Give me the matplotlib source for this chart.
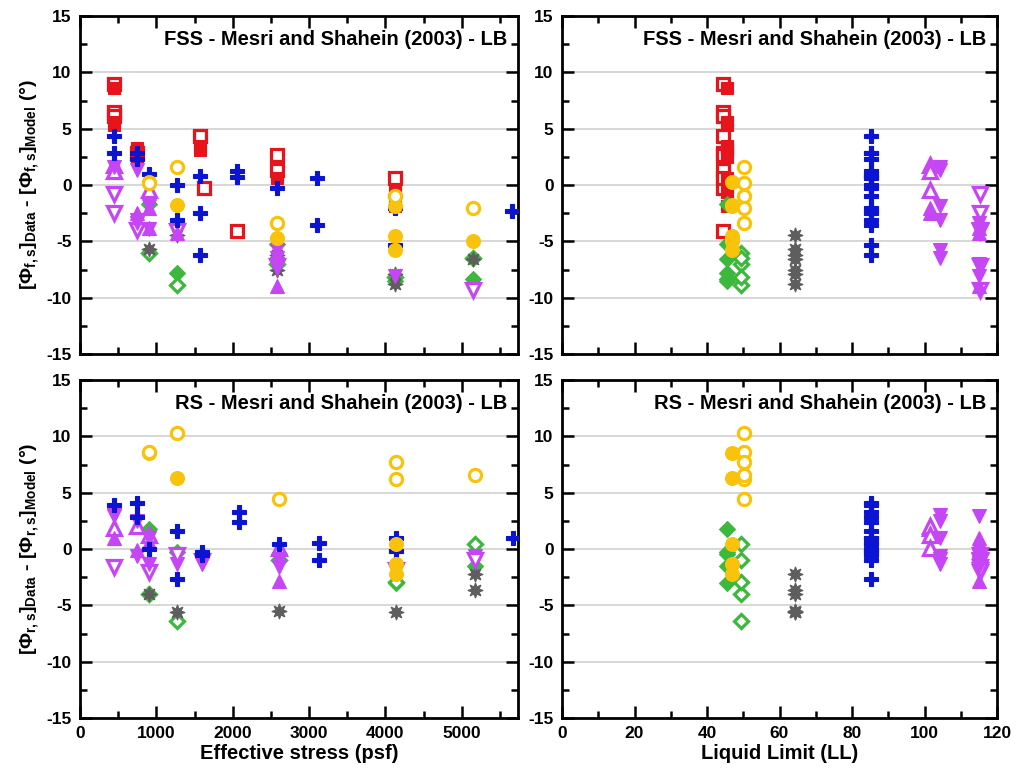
import matplotlib
matplotlib.use('Agg')
import matplotlib.pyplot as plt
from matplotlib.ticker import MultipleLocator

plt.rcParams['font.family'] = ['Liberation Sans', 'DejaVu Sans']
plt.rcParams['font.weight'] = 'bold'
plt.rcParams['axes.unicode_minus'] = False
plt.rcParams['mathtext.fontset'] = 'custom'
plt.rcParams['mathtext.rm'] = 'Liberation Sans:bold'
plt.rcParams['mathtext.it'] = 'Liberation Sans:bold'
plt.rcParams['mathtext.bf'] = 'Liberation Sans:bold'
plt.rcParams['mathtext.sf'] = 'Liberation Sans:bold'
plt.rcParams['mathtext.default'] = 'bf'

# ---------------- Liquid limits of each soil series ----------------
LL_RED_OPEN = 44.3
LL_RED_FILLED = 45.6
LL_YELLOW_FILLED = 47.0
LL_YELLOW_OPEN = 50.3
LL_GREEN_FILLED = 45.5
LL_GREEN_OPEN = 49.5
LL_GRAY = 64.2
LL_BLUE = 85.3
LL_PURPLE_OPEN_UP = 101.5
LL_PURPLE_FILLED_UP = 101.5
LL_PURPLE_FILLED_DOWN = 104.2
LL_PURPLE_OPEN_DOWN = 115.2
LL_PURPLE_FILLED_DOWN_B = 115.0
LL_PURPLE_FILLED_UP_B = 115.0

# ---------------- FSS residuals (stress psf, difference deg) ----------------
fss_red_open_x = [450, 450, 450, 750, 1575, 1627, 2055, 2585, 2585, 4130]
fss_red_open_y = [9.0, 6.5, 6.1, 2.8, 4.35, -0.3, -4.1, 2.7, 1.3, 0.6]
fss_red_filled_x = [450, 450, 450, 750, 750, 750, 1575, 1575, 2585, 4130, 4130]
fss_red_filled_y = [8.6, 5.6, 5.3, 3.3, 3.0, 2.5, 3.5, 3.1, 0.6, -0.6, -1.9]
fss_yellow_filled_x = [905, 1265, 2585, 4130, 4130, 4130, 5145]
fss_yellow_filled_y = [0.3, -1.8, -4.7, -1.9, -4.5, -5.8, -5.0]
fss_yellow_open_x = [905, 1265, 2585, 4130, 5145]
fss_yellow_open_y = [0.2, 1.6, -3.4, -1.0, -2.0]
fss_green_filled_x = [905, 1265, 2585, 2585, 4130, 5145]
fss_green_filled_y = [-1.7, -7.8, -5.2, -6.6, -8.5, -8.3]
fss_green_open_x = [905, 1265, 2585, 4130, 5145]
fss_green_open_y = [-6.0, -8.9, -7.0, -8.2, -6.5]
fss_gray_x = [905, 1265, 2585, 2585, 4130, 4130, 5145]
fss_gray_y = [-5.7, -4.4, -6.2, -7.5, -7.9, -8.8, -6.6]
fss_blue_x = [450, 450, 750, 750, 905, 1265, 1265, 1575, 1575, 1575, 2060, 2060,
              2585, 3097, 3097, 4130, 4130, 4130, 5650]
fss_blue_y = [4.35, 2.87, 2.8, 2.3, 1.0, 0.0, -3.1, 0.8, -2.5, -6.2, 1.2, 0.7,
              -0.3, 0.6, -3.55, -1.0, -2.0, -5.3, -2.35]
fss_purple_open_up_x = [450, 450, 905]
fss_purple_open_up_y = [1.8, 1.2, -0.45]
fss_purple_filled_up_x = [750, 905]
fss_purple_filled_up_y = [-2.5, -2.0]
fss_purple_filled_down_x = [450, 750, 750, 905, 2585, 2585]
fss_purple_filled_down_y = [1.6, 1.3, -3.1, -1.9, -5.8, -6.5]
fss_purple_open_down_x = [450, 450, 750, 1265, 2585, 5145]
fss_purple_open_down_y = [-0.8, -2.5, -4.0, -4.1, -7.2, -9.3]
fss_purple_filled_down_b_x = [750, 905, 2585, 4130]
fss_purple_filled_down_b_y = [-3.4, -3.9, -7.0, -8.1]
fss_purple_filled_up_b_x = [905, 1265, 2585]
fss_purple_filled_up_b_y = [-3.8, -4.3, -9.0]

# ---------------- RS residuals ----------------
rs_red_open_x = []
rs_red_open_y = []
rs_red_filled_x = []
rs_red_filled_y = []
rs_yellow_filled_x = [905, 1265, 4143, 4143, 4143]
rs_yellow_filled_y = [8.5, 6.3, 0.4, -1.3, -2.2]
rs_yellow_open_x = [905, 1265, 2611, 4143, 4143, 5170]
rs_yellow_open_y = [8.6, 10.3, 4.4, 7.7, 6.2, 6.6]
rs_green_filled_x = [905, 1265, 2611, 4143, 5170]
rs_green_filled_y = [1.8, -0.3, -0.4, -3.0, -1.5]
rs_green_open_x = [905, 1265, 2611, 4143, 5170]
rs_green_open_y = [-4.0, -6.4, -1.0, -2.9, 0.4]
rs_gray_x = [905, 1265, 2611, 4143, 5170, 5170]
rs_gray_y = [-4.0, -5.6, -5.5, -5.6, -2.2, -3.6]
rs_blue_x = [450, 750, 750, 905, 1265, 1265, 1597, 1597, 2077, 2077, 2611,
             3125, 3125, 4143, 4143, 5670]
rs_blue_y = [3.9, 4.1, 2.8, 0.0, 1.6, -2.7, -0.3, -0.5, 3.3, 2.4, 0.4,
             0.5, -1.0, 1.0, -0.15, 0.95]
rs_purple_open_up_x = [450, 750, 905, 2611]
rs_purple_open_up_y = [1.9, 2.0, 1.2, 0.1]
rs_purple_filled_up_x = []
rs_purple_filled_up_y = []
rs_purple_filled_down_x = [450, 750, 905, 1265, 2611, 5170]
rs_purple_filled_down_y = [3.0, 2.5, 1.0, -1.3, -0.9, -0.6]
rs_purple_open_down_x = [450, 905, 1265, 1597, 4143, 5170]
rs_purple_open_down_y = [-1.6, -2.0, -0.5, -1.1, -1.9, -1.0]
rs_purple_filled_down_b_x = [450, 750, 905, 1597, 2611]
rs_purple_filled_down_b_y = [2.9, -0.6, -1.3, -1.3, -1.6]
rs_purple_filled_up_b_x = [450, 750, 905, 2611]
rs_purple_filled_up_b_y = [1.0, -0.1, 0.6, -2.8]

TITLES = ['FSS - Mesri and Shahein (2003) - LB', 'RS - Mesri and Shahein (2003) - LB']
YLABELS = [r'$[\Phi_{f,s}]_{Data}$ - $[\Phi_{f,s}]_{Model}$ (°)',
           r'$[\Phi_{r,s}]_{Data}$ - $[\Phi_{r,s}]_{Model}$ (°)']
XLABELS = ['Effective stress (psf)', 'Liquid Limit (LL)']

RED = '#e8141c'
YELLOW = '#f8c30a'
GREEN = '#3cb83c'
GRAY = '#5e5e5e'
BLUE = '#0a14d2'
PURPLE = '#c645f5'
STAR = (8, 1, 0)

# style: (key, LL, marker, color, filled, size)
styles = [
    ('red_open', LL_RED_OPEN, 's', RED, False, 8.2),
    ('red_filled', LL_RED_FILLED, 's', RED, True, 8.2),
    ('green_filled', LL_GREEN_FILLED, 'D', GREEN, True, 7.8),
    ('green_open', LL_GREEN_OPEN, 'D', GREEN, False, 7.0),
    ('gray', LL_GRAY, STAR, GRAY, True, 11.0),
    ('purple_open_up', LL_PURPLE_OPEN_UP, '^', PURPLE, False, 9.5),
    ('purple_filled_up', LL_PURPLE_FILLED_UP, '^', PURPLE, True, 10.0),
    ('purple_filled_down', LL_PURPLE_FILLED_DOWN, 'v', PURPLE, True, 10.0),
    ('purple_open_down', LL_PURPLE_OPEN_DOWN, 'v', PURPLE, False, 9.5),
    ('purple_filled_down_b', LL_PURPLE_FILLED_DOWN_B, 'v', PURPLE, True, 10.0),
    ('purple_filled_up_b', LL_PURPLE_FILLED_UP_B, '^', PURPLE, True, 10.0),
    ('blue', LL_BLUE, 'P', BLUE, True, 9.5),
    ('yellow_filled', LL_YELLOW_FILLED, 'o', YELLOW, True, 10.0),
    ('yellow_open', LL_YELLOW_OPEN, 'o', YELLOW, False, 8.8),
]

data = {'fss': {}, 'rs': {}}
g = globals()
for pre in ('fss', 'rs'):
    for key, *_ in styles:
        data[pre][key] = (g[f'{pre}_{key}_x'], g[f'{pre}_{key}_y'])

fig = plt.figure(figsize=(10.16, 7.74), dpi=100)
W, H = 1016, 774
def box(l, r, t, b):
    return [l / W, 1 - b / H, (r - l) / W, (b - t) / H]

axes = [[fig.add_axes(box(80, 518, 16, 354)), fig.add_axes(box(562, 997, 16, 354))],
        [fig.add_axes(box(80, 518, 380, 718)), fig.add_axes(box(562, 997, 380, 718))]]

for row, pre in enumerate(('fss', 'rs')):
    for col in range(2):
        ax = axes[row][col]
        for key, ll, mk, color, filled, ms in styles:
            xs, ys = data[pre][key]
            if not xs:
                continue
            xv = xs if col == 0 else [ll] * len(xs)
            if filled:
                ax.plot(xv, ys, ls='none', marker=mk, ms=ms, mfc=color, mec=color,
                        mew=0.8, zorder=3)
            else:
                ax.plot(xv, ys, ls='none', marker=mk, ms=ms, mfc='white', mec=color,
                        mew=2.3, zorder=3)
        ax.set_ylim(-15, 15)
        if col == 0:
            ax.set_xlim(0, 5735)
            ax.xaxis.set_major_locator(MultipleLocator(1000))
            ax.xaxis.set_minor_locator(MultipleLocator(500))
        else:
            ax.set_xlim(0, 120)
            ax.xaxis.set_major_locator(MultipleLocator(20))
            ax.xaxis.set_minor_locator(MultipleLocator(10))
        ax.yaxis.set_major_locator(MultipleLocator(5))
        ax.yaxis.set_minor_locator(MultipleLocator(2.5))
        for yv in (-10, -5, 0, 5, 10):
            ax.axhline(yv, color='#d4d4d4', lw=1.3, zorder=1)
        ax.tick_params(which='both', direction='in', top=True, right=True, width=1.8,
                       labelsize=12.5, pad=6)
        ax.tick_params(which='major', length=8.5)
        ax.tick_params(which='minor', length=5)
        for sp in ax.spines.values():
            sp.set_linewidth(2.0)
        for lab in ax.get_xticklabels() + ax.get_yticklabels():
            lab.set_fontweight('bold')
        if row == 0:
            ax.tick_params(labelbottom=False)
        else:
            ax.set_xlabel(XLABELS[col], fontsize=14.5, fontweight='bold', labelpad=2)
        if col == 0:
            ax.set_ylabel(YLABELS[row], fontsize=14, fontweight='bold', labelpad=4)
        ax.text(0.975, 0.93, TITLES[row], transform=ax.transAxes, ha='right', va='center',
                fontsize=14.5, fontweight='bold', zorder=5)

fig.savefig('out.png', dpi=100)
